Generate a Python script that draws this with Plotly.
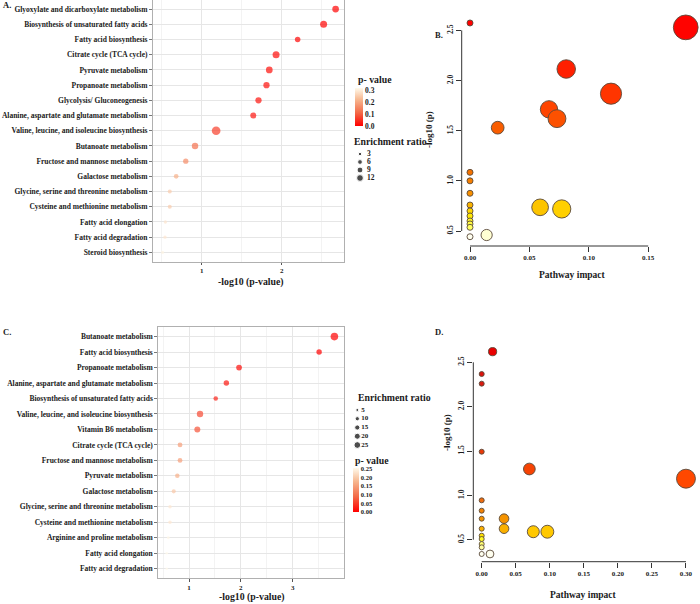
import numpy as np
import plotly.graph_objects as go

FONT = "Liberation Serif"
INK = "#1a1a1a"

# ---------------- data ----------------
a_paths = ["Glyoxylate and dicarboxylate metabolism", "Biosynthesis of unsaturated fatty acids",
           "Fatty acid biosynthesis", "Citrate cycle (TCA cycle)", "Pyruvate metabolism",
           "Propanoate metabolism", "Glycolysis/ Gluconeogenesis",
           "Alanine, aspartate and glutamate metabolism", "Valine, leucine, and isoleucine biosynthesis",
           "Butanoate metabolism", "Fructose and mannose metabolism", "Galactose metabolism",
           "Glycine, serine and threonine metabolism", "Cysteine and methionine metabolism",
           "Fatty acid elongation", "Fatty acid degradation", "Steroid biosynthesis"]
a_neglogp = [2.675, 2.525, 2.20, 1.93, 1.845, 1.81, 1.71, 1.645, 1.18, 0.916, 0.80, 0.68,
             0.60, 0.60, 0.545, 0.54, 0.51]
a_ratio = [11.8, 12.9, 8.0, 12.9, 11.8, 10.4, 10.4, 9.5, 19.9, 11.0, 7.4, 5.8, 4.2, 4.2, 2.9, 2.9, 2.4]

c_paths = ["Butanoate metabolism", "Fatty acid biosynthesis", "Propanoate metabolism",
           "Alanine, aspartate and glutamate metabolism", "Biosynthesis of unsaturated fatty acids",
           "Valine, leucine, and isoleucine biosynthesis", "Vitamin B6 metabolism",
           "Citrate cycle (TCA cycle)", "Fructose and mannose metabolism", "Pyruvate metabolism",
           "Galactose metabolism", "Glycine, serine and threonine metabolism",
           "Cysteine and methionine metabolism", "Arginine and proline metabolism",
           "Fatty acid elongation", "Fatty acid degradation"]
c_neglogp = [3.805, 3.51, 1.965, 1.72, 1.515, 1.212, 1.16, 0.826, 0.826, 0.774, 0.705,
             0.633, 0.633, 0.60, 0.57, 0.57]
c_ratio = [32, 16.6, 18.4, 16.6, 11.3, 23, 20, 12.8, 12.8, 11.3, 9.4, 7, 7, 4.6, 3.7, 3.2]

b_impact = [0.0, 0.1816, 0.081, 0.1187, 0.0665, 0.0732, 0.0233, 0.0, 0.0, 0.0, 0.0, 0.0,
            0.0, 0.0, 0.0, 0.0, 0.0, 0.059, 0.0772, 0.014]
b_neglogp = [2.574, 2.53, 2.115, 1.869, 1.713, 1.62, 1.53, 1.085, 1.0, 0.876, 0.759, 0.70,
             0.65, 0.60, 0.57, 0.537, 0.443, 0.736, 0.72, 0.46]

d_impact = [0.016, 0.0, 0.0, 0.0, 0.070, 0.300, 0.0, 0.0, 0.0, 0.0328, 0.0, 0.0328,
            0.0758, 0.0964, 0.0, 0.0, 0.0, 0.0, 0.0, 0.0122]
d_neglogp = [2.62, 2.368, 2.259, 1.492, 1.297, 1.188, 0.944, 0.827, 0.737, 0.737, 0.624, 0.624,
             0.59, 0.59, 0.545, 0.508, 0.451, 0.414, 0.339, 0.339]

a_size_legend = [3, 6, 9, 12]
c_size_legend = [5, 10, 15, 20, 25]
a_pticks = [0.0, 0.1, 0.2, 0.3]
c_pticks = [0.0, 0.05, 0.10, 0.15, 0.20, 0.25]
b_xticks = [0.0, 0.05, 0.10, 0.15]
d_xticks = [0.0, 0.05, 0.10, 0.15, 0.20, 0.25, 0.30]
bd_yticks = [0.5, 1.0, 1.5, 2.0, 2.5]

# ---------------- helpers ----------------
W, H = 700, 604
def fx(x): return x / W
def fy(y): return 1 - y / H

KA, KC = 1.95, 1.34
p_scale = [[0, "#ff0000"], [0.35, "#f36a48"], [0.7, "#f7b891"], [1, "#fffaeb"]]
heat_b = [[0.0, "#fffff0"], [0.02, "#ffffa8"], [0.05, "#ffff50"], [0.1, "#ffe800"],
          [0.13, "#ffd000"], [0.15, "#f8b000"], [0.2, "#f89000"], [0.3, "#f47200"],
          [0.5, "#f86000"], [0.6, "#ff4400"], [0.75, "#ff2400"], [1.0, "#ff0000"]]
heat_d = [[0, "#fffff0"], [0.04, "#ffff90"], [0.07, "#ffff30"], [0.09, "#ffe000"],
          [0.11, "#ffc800"], [0.13, "#f8a800"], [0.18, "#f59000"], [0.27, "#ee6a10"],
          [0.37, "#ff4800"], [0.5, "#e83a08"], [0.85, "#d81a10"], [1, "#e80000"]]

fig = go.Figure()

# ---------------- Panel A ----------------
a_p = [10 ** (-v) for v in a_neglogp]
fig.add_trace(go.Scatter(
    x=a_neglogp, y=a_paths, xaxis="x", yaxis="y", mode="markers",
    marker=dict(size=[KA * np.sqrt(r) for r in a_ratio], color=a_p, colorscale=p_scale,
                cmin=0, cmax=0.317, line=dict(width=0),
                colorbar=dict(x=fx(355), xanchor="left", y=fy(88), yanchor="top",
                              len=38, lenmode="pixels", thickness=8, thicknessmode="pixels",
                              xpad=0, ypad=0, outlinewidth=0, ticks="",
                              tickvals=a_pticks, ticktext=[f"{v:.1f}" for v in a_pticks],
                              tickfont=dict(family=FONT, size=7.5, color=INK, weight="bold"))),
    showlegend=False, hoverinfo="skip"))

# ---------------- Panel C ----------------
c_p = [10 ** (-v) for v in c_neglogp]
fig.add_trace(go.Scatter(
    x=c_neglogp, y=c_paths, xaxis="x3", yaxis="y3", mode="markers",
    marker=dict(size=[KC * np.sqrt(r) for r in c_ratio], color=c_p, colorscale=p_scale,
                cmin=0, cmax=0.255, line=dict(width=0),
                colorbar=dict(x=fx(353.3), xanchor="left", y=fy(468), yanchor="top",
                              len=43.7, lenmode="pixels", thickness=6, thicknessmode="pixels",
                              xpad=0, ypad=0, outlinewidth=0, ticks="",
                              tickvals=c_pticks, ticktext=[f"{v:.2f}" for v in c_pticks],
                              tickfont=dict(family=FONT, size=6.5, color=INK, weight="bold"))),
    showlegend=False, hoverinfo="skip"))

# ---------------- Panel B ----------------
fig.add_trace(go.Scatter(
    x=b_impact, y=b_neglogp, xaxis="x2", yaxis="y2", mode="markers",
    marker=dict(size=[6 + 44 * np.sqrt(v) for v in b_impact], color=b_neglogp,
                colorscale=heat_b, cmin=0.443, cmax=2.574, showscale=False,
                line=dict(width=0.9, color="#5a4a3a"), opacity=1),
    showlegend=False, hoverinfo="skip"))

# ---------------- Panel D ----------------
fig.add_trace(go.Scatter(
    x=d_impact, y=d_neglogp, xaxis="x4", yaxis="y4", mode="markers",
    marker=dict(size=[5 + 25.5 * np.sqrt(v) for v in d_impact], color=d_neglogp,
                colorscale=heat_d, cmin=0.339, cmax=2.62, showscale=False,
                line=dict(width=0.9, color="#5a4a3a"), opacity=1),
    showlegend=False, hoverinfo="skip"))

# ---------------- size legends ----------------
fig.add_trace(go.Scatter(
    x=[5] * len(a_size_legend), y=list(range(len(a_size_legend))), xaxis="x5", yaxis="y5",
    mode="markers", marker=dict(size=[KA * np.sqrt(v) for v in a_size_legend], color="black"),
    showlegend=False, hoverinfo="skip"))
fig.add_trace(go.Scatter(
    x=[12] * len(a_size_legend), y=list(range(len(a_size_legend))), xaxis="x5", yaxis="y5",
    mode="text", text=[str(v) for v in a_size_legend], textposition="middle right",
    textfont=dict(family=FONT, size=7.5, color=INK, weight="bold"),
    showlegend=False, hoverinfo="skip"))
fig.add_trace(go.Scatter(
    x=[5] * len(c_size_legend), y=list(range(len(c_size_legend))), xaxis="x6", yaxis="y6",
    mode="markers", marker=dict(size=[KC * np.sqrt(v) for v in c_size_legend], color="black"),
    showlegend=False, hoverinfo="skip"))
fig.add_trace(go.Scatter(
    x=[9] * len(c_size_legend), y=list(range(len(c_size_legend))), xaxis="x6", yaxis="y6",
    mode="text", text=[str(v) for v in c_size_legend], textposition="middle right",
    textfont=dict(family=FONT, size=7, color=INK, weight="bold"),
    showlegend=False, hoverinfo="skip"))

# ---------------- axes ----------------
tick_small = dict(family=FONT, size=7, color=INK, weight="bold")
cat_font = dict(family=FONT, size=7.5, color=INK, weight="bold")

def dot_x(domain, rng):
    return dict(domain=domain, range=rng, showgrid=True, gridcolor="#e6e6e6", gridwidth=0.8,
                dtick=1, tick0=0, minor=dict(dtick=0.5, showgrid=True, gridcolor="#f3f3f3", gridwidth=0.5),
                showline=True, mirror=True, linecolor="#b0b0b0", linewidth=1,
                ticks="outside", ticklen=2.5, tickcolor="#555", tickfont=tick_small,
                zeroline=False, automargin=False, fixedrange=True)

def dot_y(domain, cats, anchor):
    n = len(cats)
    return dict(domain=domain, type="category", categoryorder="array", categoryarray=cats,
                range=[n - 1 + 0.6, -0.6], showgrid=True, gridcolor="#e6e6e6", gridwidth=0.8,
                showline=True, mirror=True, linecolor="#b0b0b0", linewidth=1,
                ticks="outside", ticklen=3, tickcolor="#777", tickfont=cat_font,
                zeroline=False, automargin=False, anchor=anchor, fixedrange=True)

def imp_x(domain, rng, ticks_, anchor):
    return dict(domain=domain, range=rng, tickvals=ticks_, ticktext=[f"{v:.2f}" for v in ticks_],
                showgrid=False, showline=False, zeroline=False, ticks="outside", ticklen=5,
                tickcolor="#333", tickwidth=1, tickfont=tick_small, automargin=False,
                anchor=anchor, fixedrange=True)

def imp_y(domain, rng, anchor):
    return dict(domain=domain, range=rng, tickvals=bd_yticks, ticktext=[f"{v:.1f}" for v in bd_yticks],
                showgrid=False, showline=False, zeroline=False, ticks="outside", ticklen=5,
                tickcolor="#333", tickwidth=1, tickfont=dict(family=FONT, size=7.5, color=INK, weight="bold"),
                tickangle=-90, automargin=False, anchor=anchor, fixedrange=True)

hidden = dict(visible=False, showgrid=False, zeroline=False, fixedrange=True)

layout = dict(
    width=W, height=H, margin=dict(l=0, r=0, t=0, b=0), template="none",
    paper_bgcolor="white", plot_bgcolor="rgba(0,0,0,0)", showlegend=False,
    xaxis=dot_x([fx(153), fx(344)], [0.39, 2.78]) | dict(anchor="y"),
    yaxis=dot_y([fy(261.5), fy(0)], a_paths, "x"),
    xaxis3=dot_x([fx(158.3), fx(344)], [0.407, 3.99]) | dict(anchor="y3"),
    yaxis3=dot_y([fy(578), fy(327.3)], c_paths, "x3"),
    xaxis2=imp_x([fx(461.7), 1.0], [-0.00699, 0.1936], b_xticks, "y2"),
    yaxis2=imp_y([fy(246), 1.0], [0.3505, 2.803], "x2"),
    xaxis4=imp_x([fx(473.3), 1.0], [-0.01233, 0.3206], d_xticks, "y4"),
    yaxis4=imp_y([fy(561.7), fy(310)], [0.252, 3.0896], "x4"),
    xaxis5=hidden | dict(domain=[fx(355), fx(395)], range=[0, 40], anchor="y5"),
    yaxis5=hidden | dict(domain=[fy(182), fy(150)], range=[3.5, -0.5], anchor="x5"),
    xaxis6=hidden | dict(domain=[fx(352.3), fx(392.3)], range=[0, 40], anchor="y6"),
    yaxis6=hidden | dict(domain=[fy(449.4), fy(405.6)], range=[4.5, -0.5], anchor="x6"),
)
fig.update_layout(**layout)

# R-style axis lines spanning only the tick range
shape_line = dict(color="#333", width=1)
fig.add_shape(type="line", xref="x2 domain", yref="y2", x0=0, x1=0, y0=0.5, y1=2.5, line=shape_line)
fig.add_shape(type="line", xref="x2", yref="y2 domain", x0=0, x1=0.15, y0=0, y1=0, line=shape_line)
fig.add_shape(type="line", xref="x4 domain", yref="y4", x0=0, x1=0, y0=0.5, y1=2.5, line=shape_line)
fig.add_shape(type="line", xref="x4", yref="y4 domain", x0=0, x1=0.30, y0=0, y1=0, line=shape_line)

# ---------------- text ----------------
def ann(text, x, y, size, xanchor="center", angle=0):
    fig.add_annotation(text=text, x=fx(x), y=fy(y), xref="paper", yref="paper",
                       xanchor=xanchor, yanchor="middle", showarrow=False, textangle=angle,
                       font=dict(family=FONT, size=size, color=INK, weight="bold"))

ann("A.", 1, 5, 8.5, "left")
ann("B.", 433, 35, 8.5, "left")
ann("C.", 1, 331.7, 8.5, "left")
ann("D.", 433, 332, 8.5, "left")
ann("-log10 (p-value)", 250.5, 282, 9.8)
ann("-log10 (p-value)", 251.7, 597, 9.8)
ann("Pathway impact", 572, 275, 9.5)
ann("Pathway impact", 583, 595, 9.5)
ann("-log10 (p)", 429, 130, 9, angle=-90)
ann("-log10 (p)", 447, 433, 9, angle=-90)
ann("p- value", 356, 79, 9.8, "left")
ann("Enrichment ratio", 352, 141, 9.8, "left")
ann("Enrichment ratio", 355.5, 397, 9.8, "left")
ann("p- value", 352.5, 460.7, 9.8, "left")

fig.write_html("out.html")
